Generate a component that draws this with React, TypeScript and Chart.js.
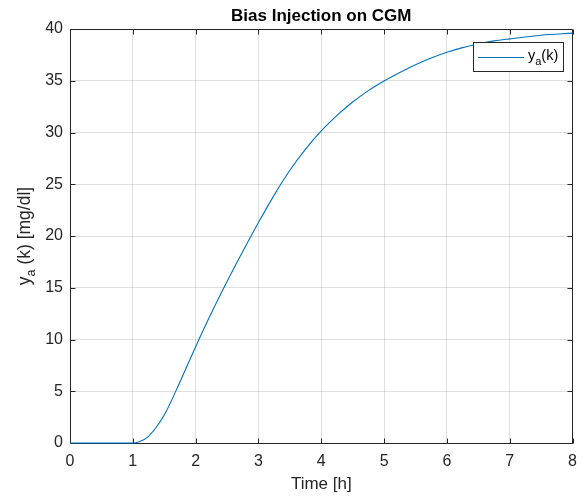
import React, { useEffect, useRef } from 'react';
import { Chart, registerables } from 'chart.js';

Chart.register(...registerables);

// ---- data ----
const timeH = [0, 0.5, 1, 1.1, 1.25, 1.5, 1.75, 2, 2.25, 2.5, 2.75, 3, 3.25, 3.5, 3.75, 4, 4.25, 4.5, 4.75, 5, 5.25, 5.5, 5.75, 6, 6.25, 6.5, 6.75, 7, 7.5, 8];
const biasMgDl = [0, 0, 0, 0.12, 0.65, 2.7, 5.9, 9.3, 12.55, 15.6, 18.5, 21.3, 23.95, 26.35, 28.4, 30.15, 31.65, 32.95, 34.05, 34.98, 35.8, 36.55, 37.2, 37.75, 38.2, 38.55, 38.85, 39.05, 39.4, 39.6];
const xTicks = [0, 1, 2, 3, 4, 5, 6, 7, 8];
const yTicks = [0, 5, 10, 15, 20, 25, 30, 35, 40];
const titleText = 'Bias Injection on CGM';
const xLabelText = 'Time [h]';

const FONT = '"Liberation Sans", Arial, Helvetica, sans-serif';
const AX = '#262626';
const LINE = '#0072BD';

type Seg = { t: string; sub?: boolean };

function drawSegs(ctx: CanvasRenderingContext2D, segs: Seg[], x: number, y: number, size: number, subSize: number, subDrop: number, center: boolean) {
  const widths = segs.map((s) => {
    ctx.font = `${s.sub ? subSize : size}px ${FONT}`;
    return ctx.measureText(s.t).width;
  });
  const total = widths.reduce((a, b) => a + b, 0);
  let cx = center ? x - total / 2 : x;
  segs.forEach((s, i) => {
    ctx.font = `${s.sub ? subSize : size}px ${FONT}`;
    ctx.fillText(s.t, cx, y + (s.sub ? subDrop : 0));
    cx += widths[i];
  });
}

const framePlugin = {
  id: 'matlabFrame',
  beforeDatasetsDraw(chart: any) {
    const { ctx, chartArea: a, scales } = chart;
    ctx.save();
    ctx.strokeStyle = AX;
    ctx.lineWidth = 1;
    const L = Math.round(a.left) + 0.5;
    const R = Math.round(a.right) - 0.5;
    const T = Math.round(a.top) + 0.5;
    const B = Math.round(a.bottom) + 0.5;
    ctx.beginPath();
    ctx.rect(L, T, R - L, B - T);
    ctx.stroke();
    const tl = 5;
    ctx.beginPath();
    xTicks.forEach((v) => {
      const px = Math.round(scales.x.getPixelForValue(v)) + 0.5;
      ctx.moveTo(px, B);
      ctx.lineTo(px, B - tl);
      ctx.moveTo(px, T);
      ctx.lineTo(px, T + tl);
    });
    yTicks.forEach((v) => {
      const py = Math.round(scales.y.getPixelForValue(v)) + 0.5;
      ctx.moveTo(L, py);
      ctx.lineTo(L + tl, py);
      ctx.moveTo(R, py);
      ctx.lineTo(R - tl, py);
    });
    ctx.stroke();
    ctx.restore();
  },
  afterDraw(chart: any) {
    const { ctx, chartArea: a } = chart;
    ctx.save();
    ctx.fillStyle = '#000';
    ctx.textBaseline = 'alphabetic';
    ctx.textAlign = 'center';
    const cx = (a.left + a.right) / 2;
    ctx.font = `bold 17px ${FONT}`;
    ctx.fillText(titleText, cx, 21);

    ctx.fillStyle = AX;
    ctx.font = `17px ${FONT}`;
    ctx.fillText(xLabelText, cx, 489);

    // y label rotated
    ctx.textAlign = 'left';
    ctx.save();
    ctx.translate(30, (a.top + a.bottom) / 2);
    ctx.rotate(-Math.PI / 2);
    drawSegs(ctx, [{ t: 'y' }, { t: 'a', sub: true }, { t: ' (k) [mg/dl]' }], 0, 0, 17.5, 12.5, 5, true);
    ctx.restore();

    // legend
    const lx = 473.5, ly = 42.5, lw = 90, lh = 29;
    ctx.fillStyle = '#fff';
    ctx.fillRect(lx, ly, lw, lh);
    ctx.strokeStyle = AX;
    ctx.lineWidth = 1;
    ctx.strokeRect(lx, ly, lw, lh);
    ctx.strokeStyle = LINE;
    ctx.beginPath();
    ctx.moveTo(478, 57.5);
    ctx.lineTo(524, 57.5);
    ctx.stroke();
    ctx.fillStyle = '#000';
    drawSegs(ctx, [{ t: 'y' }, { t: 'a', sub: true }, { t: '(k)' }], 528, 60, 14.5, 11, 5, false);
    ctx.restore();
  },
};

export default function App() {
  const ref = useRef<HTMLCanvasElement | null>(null);
  useEffect(() => {
    document.body.style.margin = '0';
    const canvas = ref.current;
    if (!canvas) return;
    const chart = new Chart(canvas, {
      type: 'line',
      data: {
        datasets: [
          {
            label: 'y_a(k)',
            data: timeH.map((t, i) => ({ x: t, y: biasMgDl[i] })),
            borderColor: LINE,
            borderWidth: 1.1,
            pointRadius: 0,
            fill: false,
            cubicInterpolationMode: 'monotone',
            clip: 4,
          } as any,
        ],
      },
      options: {
        animation: false,
        responsive: false,
        maintainAspectRatio: false,
        devicePixelRatio: 1,
        layout: { padding: { top: 29, right: 12, left: 0, bottom: 0 } },
        plugins: {
          legend: { display: false },
          title: { display: false },
          tooltip: { enabled: false },
        },
        scales: {
          x: {
            type: 'linear',
            min: 0,
            max: 8,
            afterFit: (s: any) => {
              s.height = 55;
            },
            afterBuildTicks: (s: any) => {
              s.ticks = xTicks.map((v) => ({ value: v }));
            },
            ticks: {
              padding: 9,
              color: AX,
              font: { family: FONT, size: 16 },
              maxRotation: 0,
              autoSkip: false,
            },
            grid: { color: 'rgba(38,38,38,0.15)', drawTicks: false, lineWidth: 1 },
            border: { display: false },
          },
          y: {
            type: 'linear',
            min: 0,
            max: 40,
            afterFit: (s: any) => {
              s.width = 70;
            },
            afterBuildTicks: (s: any) => {
              s.ticks = yTicks.map((v) => ({ value: v }));
            },
            ticks: {
              padding: 7,
              color: AX,
              font: { family: FONT, size: 16 },
              autoSkip: false,
            },
            grid: { color: 'rgba(38,38,38,0.15)', drawTicks: false, lineWidth: 1 },
            border: { display: false },
          },
        },
      },
      plugins: [framePlugin],
    });
    return () => chart.destroy();
  }, []);
  return (
    <div style={{ width: 586, height: 498, background: '#fff' }}>
      <canvas ref={ref} width={586} height={498} style={{ display: 'block', width: 586, height: 498 }} />
    </div>
  );
}
